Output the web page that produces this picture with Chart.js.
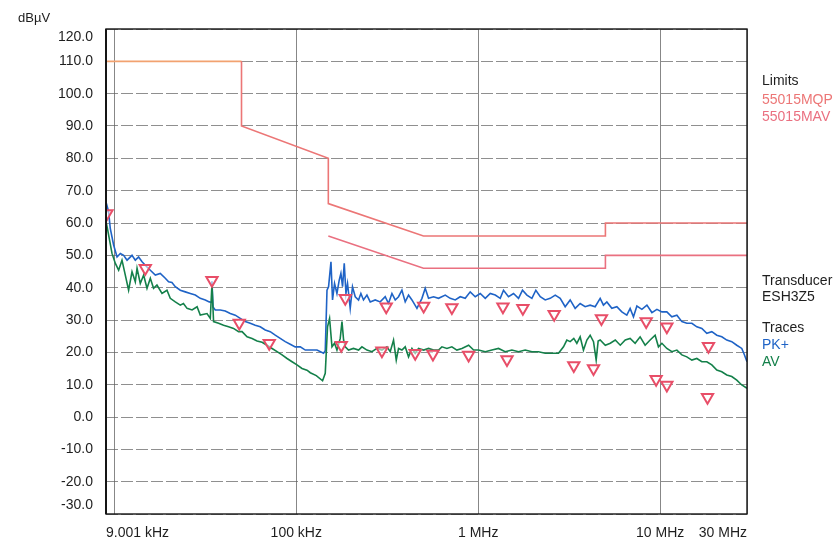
<!DOCTYPE html>
<html>
<head>
<meta charset="utf-8">
<script src="https://cdn.jsdelivr.net/npm/chart.js@4.4.1/dist/chart.umd.min.js"></script>
<style>
  html, body { margin: 0; padding: 0; background: #ffffff; }
  #wrap { position: relative; width: 835px; height: 544px; }
</style>
</head>
<body>
<div id="wrap"><canvas id="emi" width="835" height="544"></canvas></div>
<script>
// ---- Measurement data (frequency in kHz, level in dBµV) ----
const freqPK = [9.00, 9.15, 9.30, 9.50, 9.91, 10.35, 10.79, 11.25, 11.75, 12.51,
  13.04, 13.60, 14.20, 15.12, 15.77, 16.80, 17.89, 19.06, 19.87, 20.73,
  21.63, 23.04, 24.55, 26.15, 27.86, 29.67, 31.61, 33.25, 34.10, 34.40,
  34.87, 35.87, 38.21, 40.71, 43.37, 46.20, 49.21, 52.43, 55.85, 59.49,
  63.38, 67.52, 71.93, 76.62, 81.62, 86.95, 92.63, 98.68, 105.2, 112.1,
  119.4, 130.0, 141.2, 144.3, 147.5, 150.5, 155.1, 158.2, 162.3, 167.3,
  172.2, 175.9, 179.6, 183.5, 187.5, 191.3, 197.9, 203.7, 210.9, 219.9,
  226.5, 234.1, 244.5, 254.9, 271.5, 289.2, 308.2, 321.2, 335.5, 349.8,
  364.8, 380.7, 396.9, 414.0, 432.2, 460.4, 490.5, 511.2, 533.1, 567.9,
  605.0, 658.7, 701.7, 747.5, 796.3, 848.2, 903.6, 962.6, 1026, 1093,
  1164, 1240, 1321, 1377, 1467, 1563, 1665, 1751, 1852, 1972,
  2073, 2192, 2334, 2486, 2649, 2821, 3005, 3201, 3410, 3632,
  3869, 4122, 4392, 4679, 4877, 5092, 5424, 5778, 6155, 6555,
  6837, 7131, 7447, 7933, 8453, 9006, 9593, 10220, 10880, 11590,
  12350, 13160, 14010, 14930, 15900, 16940, 18040, 19220, 20470, 21810,
  23230, 24740, 26360, 28080, 28920, 30000];
const levelPK = [62.5, 65.0, 63.5, 58.3, 53.2, 49.5, 50.6, 50.0, 48.5, 50.0,
  48.5, 49.5, 48.0, 46.4, 45.4, 43.9, 44.4, 42.9, 41.8, 41.6,
  40.3, 39.2, 38.7, 38.2, 37.7, 36.7, 36.2, 35.6, 35.5, 42.0,
  34.0, 33.1, 33.1, 32.8, 32.0, 31.5, 30.5, 29.5, 29.0, 28.4,
  27.9, 26.9, 26.4, 25.3, 24.3, 23.3, 22.5, 21.7, 21.7, 20.7,
  20.7, 20.7, 19.7, 20.5, 39.2, 40.3, 48.0, 36.2, 41.3, 38.2,
  42.3, 44.4, 40.3, 47.5, 38.2, 41.3, 33.6, 40.3, 37.2, 36.2,
  38.2, 36.2, 37.7, 35.6, 36.2, 35.6, 37.2, 35.1, 38.2, 36.2,
  37.2, 39.2, 35.6, 37.7, 36.2, 33.6, 36.7, 39.8, 36.7, 37.2,
  36.7, 37.7, 36.7, 36.2, 37.2, 36.7, 38.7, 37.2, 38.2, 36.7,
  38.2, 37.7, 36.7, 39.2, 37.2, 38.2, 36.7, 39.2, 37.7, 36.7,
  39.2, 37.2, 36.2, 36.7, 37.7, 36.7, 34.1, 36.2, 33.6, 35.1,
  34.1, 34.6, 34.1, 36.7, 34.6, 35.6, 33.6, 34.1, 32.5, 31.5,
  33.6, 31.0, 34.3, 33.3, 34.6, 32.3, 33.3, 32.5, 32.5, 31.0,
  31.5, 29.5, 29.0, 29.0, 27.9, 27.4, 25.9, 26.4, 25.3, 24.8,
  23.8, 23.3, 22.2, 21.2, 19.5, 17.1];

const freqAV = [9.00, 9.15, 9.71, 10.13, 10.56, 11.02, 11.49, 11.98, 12.51, 13.04,
  13.33, 13.89, 14.49, 15.12, 15.77, 16.43, 17.15, 18.28, 19.47, 20.30,
  21.63, 23.04, 23.98, 25.11, 26.75, 28.50, 29.67, 32.31, 33.68, 34.40,
  35.11, 37.40, 39.84, 42.44, 45.21, 48.17, 50.36, 53.65, 57.15, 60.88,
  64.86, 69.09, 73.60, 78.41, 83.53, 88.99, 94.80, 100.9, 107.5, 114.5,
  119.4, 128.8, 139.5, 144.3, 148.5, 152.4, 157.1, 162.3, 167.3, 174.4,
  178.3, 182.0, 185.9, 193.7, 206.2, 219.9, 229.5, 244.5, 260.5, 277.5,
  295.6, 314.9, 328.3, 342.4, 354.4, 364.8, 380.7, 396.9, 414.0, 432.2,
  450.4, 469.7, 501.2, 533.1, 567.9, 605.0, 631.4, 672.6, 716.4, 763.2,
  813.1, 885.4, 943.2, 1004, 1093, 1189, 1293, 1406, 1531, 1665,
  1812, 1972, 2144, 2334, 2540, 2762, 2942, 3069, 3201, 3351,
  3483, 3632, 3787, 3954, 4122, 4301, 4448, 4562, 4679, 4993,
  5318, 5665, 6034, 6427, 6837, 7283, 7758, 8266, 8805, 9379,
  9784, 10220, 10880, 11590, 12350, 13160, 14010, 14930, 15900, 16940,
  18040, 19220, 20470, 21810, 23230, 24740, 26360, 28080, 30000];
const levelAV = [60.5, 58.5, 50.6, 47.5, 45.4, 48.5, 43.9, 39.2, 44.9, 41.8,
  46.0, 41.3, 43.9, 39.8, 42.9, 39.8, 40.8, 38.2, 39.2, 36.7,
  35.6, 34.6, 35.1, 33.6, 33.1, 34.1, 31.5, 32.0, 30.5, 41.0,
  29.5, 29.0, 28.4, 27.9, 27.4, 26.4, 26.4, 24.8, 24.3, 23.5,
  23.1, 22.2, 21.2, 20.2, 19.2, 18.1, 17.1, 16.1, 15.0, 14.5,
  13.7, 12.8, 11.2, 13.5, 27.9, 30.5, 21.7, 22.8, 20.7, 24.3,
  29.5, 23.8, 21.7, 20.7, 21.2, 20.7, 21.7, 20.7, 20.2, 21.2,
  20.7, 21.7, 20.2, 23.8, 17.6, 21.2, 20.7, 21.7, 18.6, 21.2,
  19.7, 21.2, 20.7, 21.2, 20.7, 20.7, 21.7, 21.2, 21.7, 20.7,
  21.2, 22.2, 20.7, 20.7, 20.2, 20.7, 21.2, 20.2, 20.7, 20.2,
  20.7, 20.2, 20.2, 19.7, 19.7, 19.7, 21.7, 23.8, 23.3, 24.3,
  22.8, 24.8, 20.7, 23.8, 25.3, 23.3, 17.6, 23.5, 23.8, 22.2,
  22.8, 23.8, 22.2, 23.8, 24.3, 22.8, 24.8, 22.2, 23.8, 25.3,
  21.7, 22.8, 21.2, 20.2, 20.7, 19.2, 18.6, 17.6, 18.1, 17.1,
  17.1, 16.1, 14.5, 14.0, 13.0, 12.5, 11.4, 9.9, 8.9];

// Final measurement points
const markerFreq = [9.11, 14.80, 34.40, 48.60, 71.02, 176.7, 185.9, 295.6, 312.1, 450.4,
  501.2, 563.7, 716.4, 885.4, 1367, 1439, 1759, 2615, 3351, 4301,
  4755, 8376, 9500, 10880, 10880, 18200, 18420];
const markerLevel = [62.9, 46.0, 42.3, 29.1, 22.8, 22.2, 36.7, 20.5, 34.1, 19.7,
  34.3, 19.5, 33.9, 19.2, 34.1, 17.8, 33.6, 31.8, 15.9, 15.0,
  30.5, 29.5, 11.7, 27.9, 9.9, 6.1, 21.9];

// EN 55015 limit lines
const limitQPFreq = [9, 50, 50, 150, 150, 500, 5000, 5000, 30000];
const limitQP     = [110, 110, 90, 80, 66, 56, 56, 60, 60];
const limitAVFreq = [150, 500, 5000, 5000, 30000];
const limitAV     = [56, 46, 46, 50, 50];

// Axis ticks and labels
const xTickValues = [9, 10, 100, 1000, 10000, 30000];
const xTickLabels = ['9.001 kHz', '', '100 kHz', '1 MHz', '10 MHz', '30 MHz'];
const yTickValues = [120, 110, 100, 90, 80, 70, 60, 50, 40, 30, 20, 10, 0, -10, -20, -30];
const unitLabel = 'dBµV';

// Side panel text
const sideLimits = ['Limits', '55015MQP', '55015MAV'];
const sideTransducer = ['Transducer', 'ESH3Z5'];
const sideTraces = ['Traces', 'PK+', 'AV'];

const COL_PK = '#1f63c6';
const COL_AV = '#14804a';
const COL_QP_LIMIT = 'rgb(236,118,118)';
const COL_QP_TOP = 'rgb(242,162,112)';
const COL_AV_LIMIT = 'rgb(234,112,128)';
const COL_MARK = 'rgb(232,78,104)';
const FONT = '"Liberation Sans", Arial, Helvetica, sans-serif';

const toXY = (fx, vy) => fx.map((f, i) => ({ x: f, y: vy[i] }));

const sidePanel = {
  id: 'sidePanel',
  beforeDraw(chart) {
    const ctx = chart.ctx;
    ctx.save();
    ctx.fillStyle = '#ffffff';
    ctx.fillRect(0, 0, chart.width, chart.height);
    ctx.restore();
  },
  afterDraw(chart) {
    const { ctx, chartArea: a } = chart;
    const y = chart.scales.y;
    ctx.save();
    // plot frame
    ctx.strokeStyle = '#151515';
    ctx.lineWidth = 1.4;
    ctx.strokeRect(a.left, a.top, a.right - a.left, a.bottom - a.top);
    ctx.lineWidth = 2;
    ctx.beginPath();
    ctx.moveTo(a.left, a.top);
    ctx.lineTo(a.left, a.bottom);
    ctx.stroke();

    // y tick labels (end labels kept inside the frame height)
    ctx.font = '14px ' + FONT;
    ctx.fillStyle = '#1e1e1e';
    ctx.textAlign = 'right';
    ctx.textBaseline = 'middle';
    yTickValues.forEach(v => {
      let py = y.getPixelForValue(v);
      py = Math.min(a.bottom - 9, Math.max(a.top + 8.5, py));
      ctx.fillText(v.toFixed(1), a.left - 13, py);
    });

    // unit
    ctx.textAlign = 'left';
    ctx.font = '13px ' + FONT;
    ctx.fillText(unitLabel, 18, 18);

    // side panel
    const sx = a.right + 15;
    ctx.font = '14px ' + FONT;
    const put = (txt, col, py) => { ctx.fillStyle = col; ctx.fillText(txt, sx, py); };
    put(sideLimits[0], '#1e1e1e', 81);
    put(sideLimits[1], COL_QP_LIMIT, 100);
    put(sideLimits[2], COL_AV_LIMIT, 117);
    put(sideTransducer[0], '#1e1e1e', 281);
    put(sideTransducer[1], '#1e1e1e', 297);
    put(sideTraces[0], '#1e1e1e', 328);
    put(sideTraces[1], COL_PK, 345);
    put(sideTraces[2], COL_AV, 362);
    ctx.restore();
  }
};

new Chart(document.getElementById('emi'), {
  type: 'line',
  data: {
    datasets: [
      {
        label: 'Final',
        data: toXY(markerFreq, markerLevel),
        showLine: false,
        pointStyle: 'triangle',
        rotation: 180,
        pointRadius: 6.5,
        pointBorderWidth: 2,
        pointBorderColor: COL_MARK,
        pointBackgroundColor: 'rgba(255,255,255,0.55)',
        order: 0
      },
      {
        label: 'AV',
        data: toXY(freqAV, levelAV),
        borderColor: COL_AV,
        borderWidth: 1.6,
        pointRadius: 0,
        tension: 0,
        order: 1
      },
      {
        label: 'PK+',
        data: toXY(freqPK, levelPK),
        borderColor: COL_PK,
        borderWidth: 1.6,
        pointRadius: 0,
        tension: 0,
        order: 2
      },
      {
        label: '55015MQP',
        data: toXY(limitQPFreq, limitQP),
        borderColor: COL_QP_LIMIT,
        borderWidth: 1.6,
        pointRadius: 0,
        tension: 0,
        segment: {
          borderColor: c => (c.p0.parsed.y >= 110 && c.p1.parsed.y >= 110) ? COL_QP_TOP : undefined
        },
        order: 3
      },
      {
        label: '55015MAV',
        data: toXY(limitAVFreq, limitAV),
        borderColor: COL_AV_LIMIT,
        borderWidth: 1.6,
        pointRadius: 0,
        tension: 0,
        order: 3
      }
    ]
  },
  options: {
    responsive: false,
    devicePixelRatio: 1,
    animation: false,
    layout: { padding: { left: 106, right: 88, top: 29, bottom: 0 } },
    plugins: { legend: { display: false }, tooltip: { enabled: false } },
    scales: {
      x: {
        type: 'logarithmic',
        min: 9,
        max: 30000,
        afterBuildTicks: s => { s.ticks = xTickValues.map(v => ({ value: v })); },
        afterFit: s => { s.height = 30; },
        grid: { color: 'rgba(95,95,95,0.75)', lineWidth: 1, drawTicks: false },
        border: { display: false },
        ticks: {
          autoSkip: false,
          maxRotation: 0,
          align: 'inner',
          padding: 11,
          color: '#1e1e1e',
          font: { size: 14, family: FONT },
          callback: (v, i) => xTickLabels[i]
        }
      },
      y: {
        min: -30,
        max: 120,
        grid: { color: 'rgba(95,95,95,0.7)', lineWidth: 1, drawTicks: false },
        border: { display: false, dash: [12, 3] },
        ticks: { display: false, stepSize: 10 }
      }
    }
  },
  plugins: [sidePanel]
});
</script>
</body>
</html>
